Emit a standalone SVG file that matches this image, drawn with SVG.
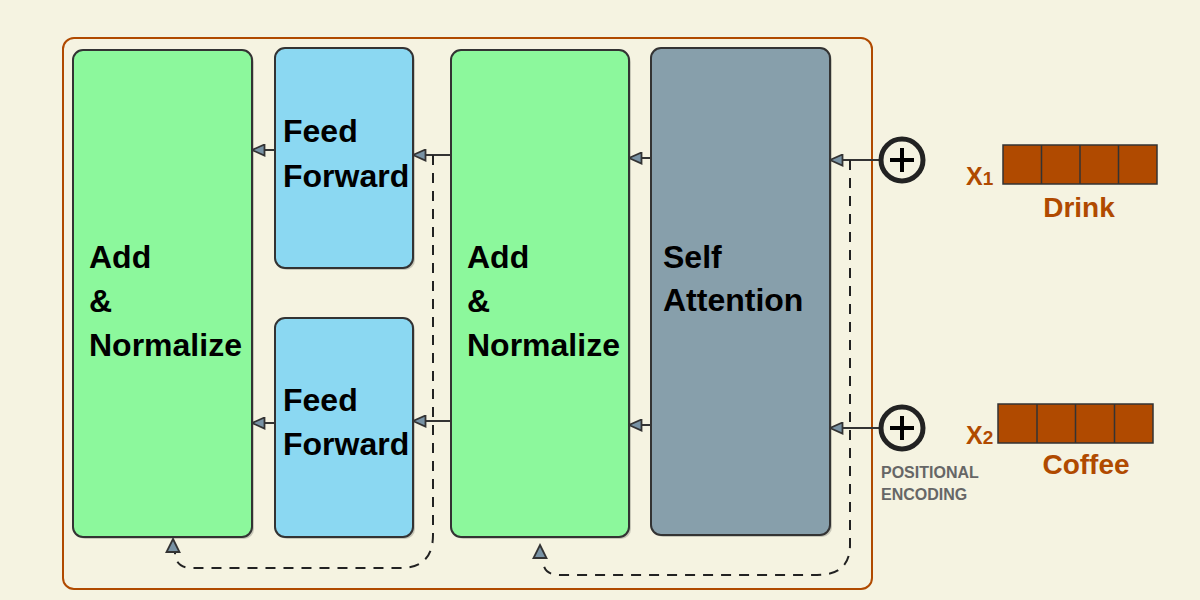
<svg xmlns="http://www.w3.org/2000/svg" width="1200" height="600" viewBox="0 0 1200 600">
<style>
.box{stroke:#333;stroke-width:2}
.green{fill:#8cf89c}
.blue{fill:#8bd8f2}
.gray{fill:#879fab}
.shadow{fill:#000;opacity:0.18}
.lbl{font-family:"Liberation Sans",Arial,sans-serif;font-weight:bold;font-size:32px;fill:#000}
.arr{stroke:#333;stroke-width:2;fill:none;marker-end:url(#ah)}
.dash{stroke:#222;stroke-width:2;fill:none;stroke-dasharray:10 8}
.orange{fill:#b04a00}
.otext{font-family:"Liberation Sans",Arial,sans-serif;font-weight:bold;fill:#b04a00}
</style>
<defs>
<marker id="ah" viewBox="0 0 15 13" refX="14" refY="6.5" markerWidth="15" markerHeight="13" markerUnits="userSpaceOnUse" orient="auto">
<path d="M14,6.5 L1.5,1 L1.5,12 Z" fill="#7892a4" stroke="#333" stroke-width="1.8"/>
</marker>
</defs>
<rect width="1200" height="600" fill="#f5f3e1"/>
<rect id="frame" x="63" y="38" width="809" height="551" rx="11" fill="none" stroke="#b04a00" stroke-width="2"/>

<g id="addnorm1">
<rect class="shadow" x="75" y="52" width="179" height="487" rx="10"/>
<rect class="box green" x="73" y="50" width="179" height="487" rx="10"/>
<text class="lbl" x="89" y="268">Add</text>
<text class="lbl" x="89" y="312">&amp;</text>
<text class="lbl" x="89" y="356">Normalize</text>
</g>
<g id="ff1">
<rect class="shadow" x="277" y="50" width="138" height="220" rx="10"/>
<rect class="box blue" x="275" y="48" width="138" height="220" rx="10"/>
<text class="lbl" x="283" y="142">Feed</text>
<text class="lbl" x="283" y="187">Forward</text>
</g>
<g id="ff2">
<rect class="shadow" x="277" y="320" width="138" height="219" rx="10"/>
<rect class="box blue" x="275" y="318" width="138" height="219" rx="10"/>
<text class="lbl" x="283" y="411">Feed</text>
<text class="lbl" x="283" y="455">Forward</text>
</g>
<g id="addnorm2">
<rect class="shadow" x="453" y="52" width="178" height="487" rx="10"/>
<rect class="box green" x="451" y="50" width="178" height="487" rx="10"/>
<text class="lbl" x="467" y="268">Add</text>
<text class="lbl" x="467" y="312">&amp;</text>
<text class="lbl" x="467" y="356">Normalize</text>
</g>
<g id="selfattn">
<rect class="shadow" x="653" y="50" width="179" height="487" rx="10"/>
<rect class="box gray" x="651" y="48" width="179" height="487" rx="10"/>
<text class="lbl" x="663" y="268">Self</text>
<text class="lbl" x="663" y="311">Attention</text>
</g>

<g id="connectors">
<line class="arr" x1="880" y1="160" x2="830" y2="160"/>
<line class="arr" x1="880" y1="428" x2="830" y2="428"/>
<line class="arr" x1="651" y1="158" x2="629" y2="158"/>
<line class="arr" x1="651" y1="425" x2="629" y2="425"/>
<line class="arr" x1="451" y1="155" x2="413" y2="155"/>
<line class="arr" x1="451" y1="421" x2="413" y2="421"/>
<line class="arr" x1="275" y1="150" x2="252" y2="150"/>
<line class="arr" x1="275" y1="423" x2="252" y2="423"/>
<path class="dash" d="M433,155 V535 Q433,568 400,568 H192 Q175,568 175,552"/>
<path class="dash" d="M850,160 V545 Q850,575 817,575 H560 Q543,575 543,560"/>
<path d="M173,539 L179.5,552 L166.5,552 Z" fill="#7892a4" stroke="#333" stroke-width="1.8"/>
<path d="M540,545 L546.5,558 L533.5,558 Z" fill="#7892a4" stroke="#333" stroke-width="1.8"/>
</g>

<g id="pe1">
<circle cx="902" cy="160" r="21" fill="#f5f3e1" stroke="#222" stroke-width="5"/>
<path d="M890,160 H914 M902,148 V172" stroke="#000" stroke-width="4"/>
</g>
<g id="pe2">
<circle cx="902" cy="428" r="21" fill="#f5f3e1" stroke="#222" stroke-width="5"/>
<path d="M890,428 H914 M902,416 V440" stroke="#000" stroke-width="4"/>
<text x="881" y="478" font-family="Liberation Sans,Arial,sans-serif" font-weight="bold" font-size="16" fill="#666">POSITIONAL</text>
<text x="881" y="500" font-family="Liberation Sans,Arial,sans-serif" font-weight="bold" font-size="16" fill="#666">ENCODING</text>
</g>

<g id="x1">
<text class="otext" x="966" y="185" font-size="25">X<tspan font-size="19">1</tspan></text>
<rect class="orange" x="1003" y="145" width="154" height="39" stroke="#333" stroke-width="1.5"/>
<path d="M1041.5,145 V184 M1080,145 V184 M1118.5,145 V184" stroke="#333" stroke-width="1.5"/>
<text class="otext" x="1079" y="217" font-size="28" text-anchor="middle">Drink</text>
</g>
<g id="x2">
<text class="otext" x="966" y="444" font-size="25">X<tspan font-size="19">2</tspan></text>
<rect class="orange" x="998" y="404" width="155" height="39" stroke="#333" stroke-width="1.5"/>
<path d="M1037,404 V443 M1075.5,404 V443 M1114.5,404 V443" stroke="#333" stroke-width="1.5"/>
<text class="otext" x="1086" y="474" font-size="28" text-anchor="middle">Coffee</text>
</g>
</svg>
